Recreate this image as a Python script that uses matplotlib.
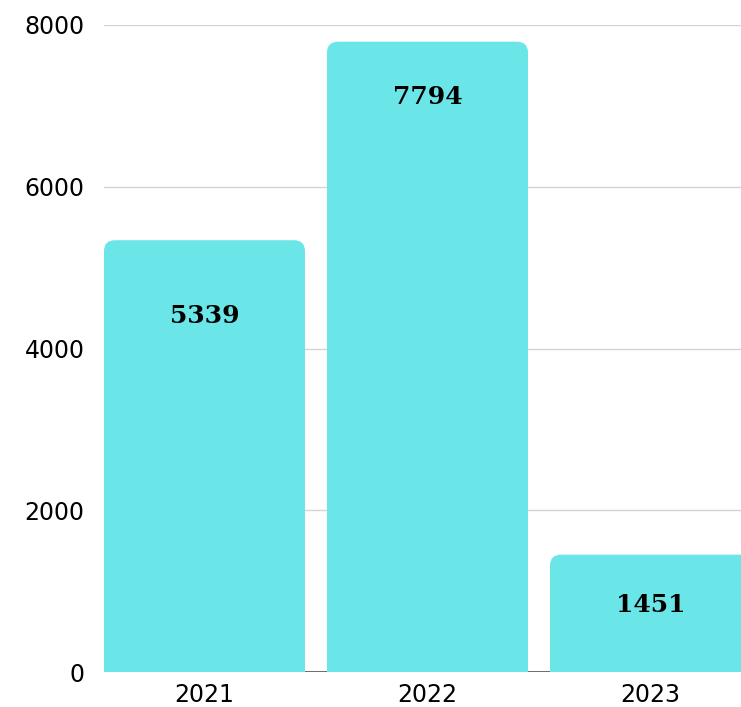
import matplotlib
matplotlib.use("Agg")
import matplotlib.pyplot as plt
from matplotlib.patches import FancyBboxPatch

years = ["2021", "2022", "2023"]
values = [5339, 7794, 1451]
y_ticks = [0, 2000, 4000, 6000, 8000]

BAR_COLOR = "#6be6e8"
label_offsets_px = [-76, -55, -50]

fig = plt.figure(figsize=(7.41, 7.07), dpi=100)
ax = fig.add_axes([104/741, 35/707, 1 - 104/741, (672-25)/707])

x = list(range(len(years)))
width = 201/223
bars = ax.bar(x, values, width=width, color=BAR_COLOR, zorder=2)
ax.set_xlim(-width/2, -width/2 + (741-104)/223)
ax.set_ylim(0, 8000)

# replace with rounded-top bars
xpx_per_unit = 223.0
ypx_per_unit = 647.0/8000
aspect = xpx_per_unit/ypx_per_unit
r = 11/xpx_per_unit
for b in bars:
    x0, w, h = b.get_x(), b.get_width(), b.get_height()
    b.set_visible(False)
    p = FancyBboxPatch((x0, -400), w, h + 400,
                       boxstyle=f"round,pad=0,rounding_size={r}",
                       mutation_aspect=aspect, facecolor=BAR_COLOR,
                       edgecolor="none", zorder=2, clip_on=True)
    ax.add_patch(p)
    p.set_clip_path(ax.patch)

for xi, v, off in zip(x, values, label_offsets_px):
    ax.annotate(str(v), (xi, v), xytext=(0, off*0.72), textcoords="offset points",
                ha="center", va="center", fontsize=18, fontweight="bold",
                family="DejaVu Serif", color="black", zorder=3)

ax.set_yticks(y_ticks)
ax.set_yticklabels([str(t) for t in y_ticks])
ax.set_xticks(x)
ax.set_xticklabels(years)
ax.tick_params(axis="both", length=0, labelsize=17, colors="black")
ax.tick_params(axis="y", pad=14)
ax.tick_params(axis="x", pad=8)
for s in ax.spines.values():
    s.set_visible(False)
ax.grid(axis="y", color="#d4d4d4", linewidth=1, zorder=0)
ax.set_axisbelow(True)
ax.axhline(0, color="#555555", linewidth=1.2, zorder=1)

fig.savefig("out.png", dpi=100)
